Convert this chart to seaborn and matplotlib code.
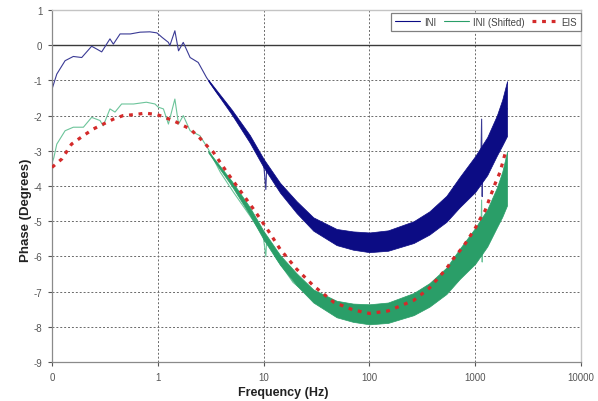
import matplotlib
matplotlib.use("Agg")
import matplotlib.pyplot as plt
from matplotlib.ticker import NullLocator
import seaborn as sns

# ---------------- data ----------------
# INI thin trace (frequency in Hz, phase in degrees)
ini_freq = [0.1, 0.111, 0.133, 0.159, 0.191, 0.237, 0.265, 0.295, 0.353, 0.38,
            0.44, 0.55, 0.68, 0.84, 0.98, 1.1, 1.26, 1.3, 1.45, 1.57, 1.74,
            2.02, 2.41, 2.89, 3.6, 4.5, 5.5, 7.4, 10, 10.5, 10.7, 11, 14.3,
            20.5, 29.5, 49, 61, 100, 150, 262, 369, 534, 715, 1000, 1130,
            1150, 1165, 1180, 1400, 1600, 1800, 2000]
ini_phase = [-1.25, -0.82, -0.44, -0.32, -0.35, -0.03, -0.11, -0.19, 0.18, 0.03,
             0.32, 0.32, 0.37, 0.38, 0.35, 0.22, 0.08, -0.01, 0.41, -0.16, 0.08,
             -0.35, -0.49, -0.92, -1.34, -1.7, -2.1, -2.66, -3.35, -4.1, -3.45,
             -3.5, -4.05, -4.6, -5.08, -5.45, -5.5, -5.6, -5.55, -5.31, -5.05,
             -4.65, -4.17, -3.66, -3.4, -2.1, -4.3, -3.3, -3.0, -2.57, -2.15, -1.8]

# INI (Shifted) thin trace
sh_freq = [0.1, 0.104, 0.111, 0.133, 0.159, 0.198, 0.237, 0.284, 0.305, 0.353,
           0.394, 0.455, 0.59, 0.78, 0.94, 1.01, 1.13, 1.26, 1.45, 1.57, 1.74,
           2.02, 2.5, 3.0, 3.9, 5.2, 7.4, 9.9, 10.5, 10.7, 13.3, 19, 29.5, 46,
           70, 100, 150, 262, 369, 534, 715, 1000, 1130, 1150, 1165, 1180,
           1400, 1600, 1800, 2000]
sh_phase = [-3.35, -3.2, -2.81, -2.43, -2.33, -2.33, -2.05, -2.14, -2.29, -1.81,
            -1.9, -1.67, -1.67, -1.62, -1.67, -1.76, -1.81, -2.24, -1.53, -2.24,
            -2.0, -2.43, -2.57, -2.95, -3.61, -4.18, -4.84, -5.41, -6.0, -5.5,
            -6.07, -6.74, -7.2, -7.5, -7.6, -7.65, -7.6, -7.35, -7.1, -6.7,
            -6.2, -5.7, -5.45, -4.4, -6.16, -5.35, -5.05, -4.6, -4.2, -3.8]

# envelope of the noisy band (both INI series)
band_freq = [3, 5, 7.4, 10, 14.3, 20.5, 29.5, 49, 70, 100, 150, 262, 369, 534,
             715, 1000, 1300, 1600, 1800, 2000]
ini_lo = [-1.02, -1.97, -2.77, -3.47, -4.19, -4.77, -5.27, -5.68, -5.81, -5.88,
          -5.84, -5.62, -5.38, -5.02, -4.6, -4.17, -3.69, -3.14, -2.85, -2.58]
ini_hi = [-0.98, -1.83, -2.55, -3.23, -3.91, -4.43, -4.89, -5.22, -5.29, -5.32,
          -5.26, -5.0, -4.72, -4.28, -3.74, -3.15, -2.61, -2.0, -1.55, -1.02]
sh_lo = [-3.05, -4.0, -4.82, -5.52, -6.24, -6.82, -7.31, -7.73, -7.86, -7.93,
         -7.89, -7.67, -7.43, -7.07, -6.64, -6.21, -5.72, -5.18, -4.88, -4.55]
sh_hi = [-3.01, -3.86, -4.6, -5.28, -5.96, -6.48, -6.94, -7.26, -7.34, -7.36,
         -7.31, -7.04, -6.76, -6.32, -5.78, -5.19, -4.66, -4.05, -3.6, -3.02]

# EIS model
eis_freq = [0.1, 0.124, 0.153, 0.198, 0.246, 0.38, 0.47, 0.61, 0.76, 0.98, 1.17,
            1.51, 2.02, 2.5, 3.0, 3.35, 4.5, 6.0, 8.0, 10.8, 14.3, 20.5, 29.5,
            46, 70, 100, 150, 262, 369, 534, 620, 780, 1000, 1110, 1240, 1540,
            1715, 1950]
eis_phase = [-3.47, -3.23, -2.81, -2.57, -2.38, -2.10, -2.0, -1.97, -1.93, -1.97,
             -2.05, -2.19, -2.38, -2.64, -2.9, -3.04, -3.61, -4.13, -4.65, -5.22,
             -5.79, -6.36, -6.83, -7.30, -7.52, -7.62, -7.55, -7.25, -6.9, -6.35,
             -6.07, -5.7, -5.2, -4.94, -4.7, -3.94, -3.61, -3.0]

x_ticks = [0.1, 1, 10, 100, 1000, 10000]
x_tick_labels = ["0", "1", "10", "100", "1000", "10000"]
y_ticks = [-9, -8, -7, -6, -5, -4, -3, -2, -1, 0, 1]
y_tick_labels = ["-9", "-8", "-7", "-6", "-5", "-4", "-3", "-2", "-1", "0", "1"]

# ---------------- styling ----------------
sns.set_theme(style="white")
plt.rcParams["font.family"] = ["Liberation Sans", "DejaVu Sans"]

INI_C = "#0c0c84"
INI_THIN = "#3a3a95"
SH_C = "#2a9e68"
SH_THIN = "#6cc49a"
EIS_C = "#d42a2a"

fig = plt.figure(figsize=(5.98, 4.02), dpi=100)
ax = fig.add_axes([52 / 598, 1 - 363 / 402, (581 - 52) / 598, (363 - 11) / 402])

ax.set_xscale("log")
ax.set_xlim(0.1, 10000)
ax.set_ylim(-9, 1)

# thin traces (below the noisy bands)
sns.lineplot(x=ini_freq, y=ini_phase, ax=ax, color=INI_THIN, lw=0.8,
             estimator=None, sort=False, label="INI", zorder=1.8)
sns.lineplot(x=sh_freq, y=sh_phase, ax=ax, color=SH_THIN, lw=0.8,
             estimator=None, sort=False, label="INI (Shifted)", zorder=1.8)

# noisy bands
ax.fill_between(band_freq, ini_lo, ini_hi, color=INI_C, lw=0.5, zorder=2)
ax.fill_between(band_freq, sh_lo, sh_hi, color=SH_C, lw=0.5, zorder=2)

sns.lineplot(x=eis_freq, y=eis_phase, ax=ax, color=EIS_C, lw=2.3,
             estimator=None, sort=False, label="EIS", zorder=4,
             linestyle=(0, (1.2, 1.8)))

# zero line
ax.axhline(0, color="#3a3a3a", lw=1.0, zorder=1)

# ticks
ax.set_xticks(x_ticks)
ax.set_xticklabels(x_tick_labels)
ax.xaxis.set_minor_locator(NullLocator())
ax.set_yticks(y_ticks)
ax.set_yticklabels(y_tick_labels)
ax.tick_params(axis="both", which="major", labelsize=7, colors="#555555",
               length=3, width=0.8, direction="out")
ax.tick_params(axis="x", pad=4.5)
ax.tick_params(axis="y", pad=4)
ax.tick_params(bottom=True, left=True)

# grid
ax.grid(True, which="major", color="#6a6a6a", lw=0.7, linestyle=(0, (2, 2)))
ax.set_axisbelow(True)

for side in ["left", "bottom"]:
    ax.spines[side].set_color("#8a8a8a")
    ax.spines[side].set_linewidth(0.9)
for side in ["top", "right"]:
    ax.spines[side].set_color("#c4c4c4")
    ax.spines[side].set_linewidth(1.0)

ax.set_xlabel("Frequency (Hz)", fontsize=9, fontweight="bold", color="#222222")
ax.set_ylabel("Phase (Degrees)", fontsize=9.5, fontweight="bold", color="#222222")
ax.xaxis.set_label_coords((283 - 52) / 529, (363 - 387) / 352)
ax.yaxis.set_label_coords((32 - 52) / 529, (363 - 210) / 352)

leg = ax.legend(loc="upper right", bbox_to_anchor=(1.0, 0.992), ncol=3,
                frameon=True, fancybox=False, edgecolor="#808080", fontsize=7,
                handlelength=2.6, columnspacing=0.8, handletextpad=0.4,
                borderpad=0.4, borderaxespad=0.0, framealpha=1)
leg.get_frame().set_linewidth(0.9)
for t in leg.get_texts():
    t.set_color("#444444")
for h, c in zip(leg.get_lines(), [INI_C, SH_C, EIS_C]):
    h.set_color(c)

fig.savefig("out.png", dpi=100)
